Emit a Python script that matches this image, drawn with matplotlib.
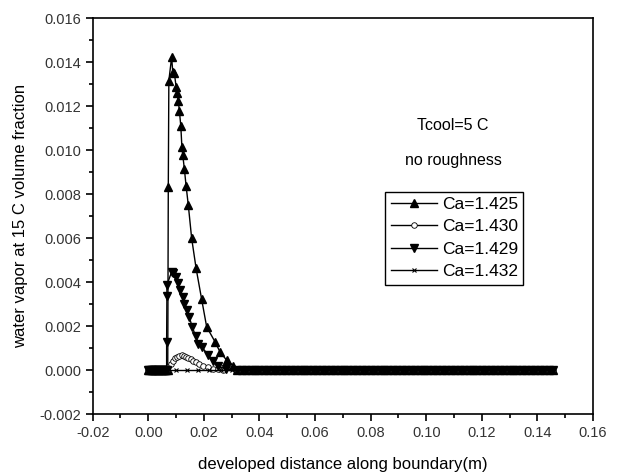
import numpy as np
import matplotlib.pyplot as plt

plt.rcParams['font.family'] = ['Liberation Sans', 'DejaVu Sans']

# sampling grid of the flat parts (values there are read as zero)
x_lead = np.arange(0.0, 0.0066, 0.0004)
x_tail = np.arange(0.032, 0.1466, 0.0016)

# Ca=1.425 peak region
x_425 = [0.0070, 0.0072, 0.0074, 0.0084, 0.0088, 0.0094, 0.0100, 0.0103, 0.0108, 0.0112,
         0.0117, 0.0121, 0.0124, 0.0130, 0.0136, 0.0144, 0.0156, 0.0172, 0.0192, 0.0210,
         0.0240, 0.0258, 0.0282, 0.0306]
y_425 = [0.0, 0.00834, 0.01316, 0.01423, 0.01357, 0.0135, 0.01289, 0.01259, 0.01224, 0.01178,
         0.0111, 0.01013, 0.00978, 0.00913, 0.00838, 0.0075, 0.0060, 0.00463, 0.00322, 0.00197,
         0.00129, 0.00083, 0.00045, 0.0002]

# Ca=1.430 small bump
x_430 = [0.0066, 0.0072, 0.0080, 0.0088, 0.0096, 0.0104, 0.0112, 0.0120, 0.0128, 0.0136,
         0.0144, 0.0152, 0.0162, 0.0172, 0.0184, 0.0198, 0.0214, 0.0232, 0.0250, 0.0270]
y_430 = [0.0, 0.00012, 0.00028, 0.00042, 0.00053, 0.00061, 0.00066, 0.00068, 0.00066, 0.00062,
         0.00056, 0.00050, 0.00043, 0.00036, 0.00028, 0.00020, 0.00013, 0.00007, 0.00003, 0.0]

# Ca=1.429 second peak
x_429 = [0.0066, 0.0066, 0.0067, 0.0067, 0.0084, 0.0090, 0.0100, 0.0108, 0.0114, 0.0124,
         0.0128, 0.0138, 0.0147, 0.0158, 0.0170, 0.0180, 0.0192, 0.0216, 0.0234, 0.0252, 0.0280]
y_429 = [0.0, 0.00129, 0.00337, 0.00387, 0.00447, 0.0044, 0.00422, 0.00394, 0.00364, 0.00333,
         0.00303, 0.00273, 0.00243, 0.00197, 0.00156, 0.00121, 0.00106, 0.00068, 0.00040, 0.00018, 0.00005]

# Ca=1.432 stays at zero
x_432 = [0.0066, 0.0100, 0.0140, 0.0180, 0.0220, 0.0260, 0.0300]
y_432 = [0.0, 0.0, 0.0, 0.0, 0.0, 0.0, 0.0]

labels = ['Ca=1.425', 'Ca=1.430', 'Ca=1.429', 'Ca=1.432']


def full(xs, ys):
    x = np.concatenate([x_lead, xs, x_tail])
    y = np.concatenate([np.zeros(len(x_lead)), ys, np.zeros(len(x_tail))])
    return x, y


fig = plt.figure(figsize=(6.37, 4.76), dpi=100)
ax = fig.add_axes([0.1455, 0.130, 0.7855, 0.8316])

x, y = full(x_425, y_425)
ax.plot(x, y, 'k-', marker='^', ms=5.5, lw=1, label=labels[0])
x, y = full(x_430, y_430)
ax.plot(x, y, 'k-', marker='o', ms=4, mfc='white', mew=0.6, lw=1, label=labels[1])
x, y = full(x_429, y_429)
ax.plot(x, y, 'k-', marker='v', ms=5.5, lw=1, label=labels[2])
x, y = full(x_432, y_432)
ax.plot(x, y, 'k-', marker='x', ms=3, mew=0.8, lw=1, label=labels[3])

ax.set_xlim(-0.02, 0.16)
ax.set_ylim(-0.002, 0.016)
ax.set_xticks(np.arange(-0.02, 0.161, 0.02))
ax.set_yticks(np.arange(-0.002, 0.0161, 0.002))
ax.set_xticks(np.arange(-0.01, 0.16, 0.02), minor=True)
ax.set_yticks(np.arange(-0.001, 0.016, 0.002), minor=True)
ax.xaxis.set_major_formatter(plt.FormatStrFormatter('%.2f'))
ax.yaxis.set_major_formatter(plt.FormatStrFormatter('%.3f'))
ax.tick_params(which='both', direction='out', top=False, right=False,
               labelsize=10.5, width=1.2, colors='black', labelcolor='#333333')
ax.tick_params(which='major', length=5)
ax.tick_params(which='minor', length=3)
for s in ax.spines.values():
    s.set_linewidth(1.2)

ax.set_xlabel('developed distance along boundary(m)', fontsize=12, labelpad=12)
ax.set_ylabel('water vapor at 15 C volume fraction', fontsize=12, labelpad=8)

ax.text(0.72, 0.728, 'Tcool=5 C', transform=ax.transAxes, ha='center', va='center', fontsize=11.5)
ax.text(0.72, 0.64, 'no roughness', transform=ax.transAxes, ha='center', va='center', fontsize=11.5)

leg = ax.legend(loc='upper left', bbox_to_anchor=(0.585, 0.562), fontsize=12.5,
                frameon=True, fancybox=False, edgecolor='black', framealpha=1,
                handlelength=2.7, handletextpad=0.25, borderpad=0.3, labelspacing=0.42,
                borderaxespad=0)
leg.get_frame().set_linewidth(1.0)

fig.savefig('out.png', dpi=100)
